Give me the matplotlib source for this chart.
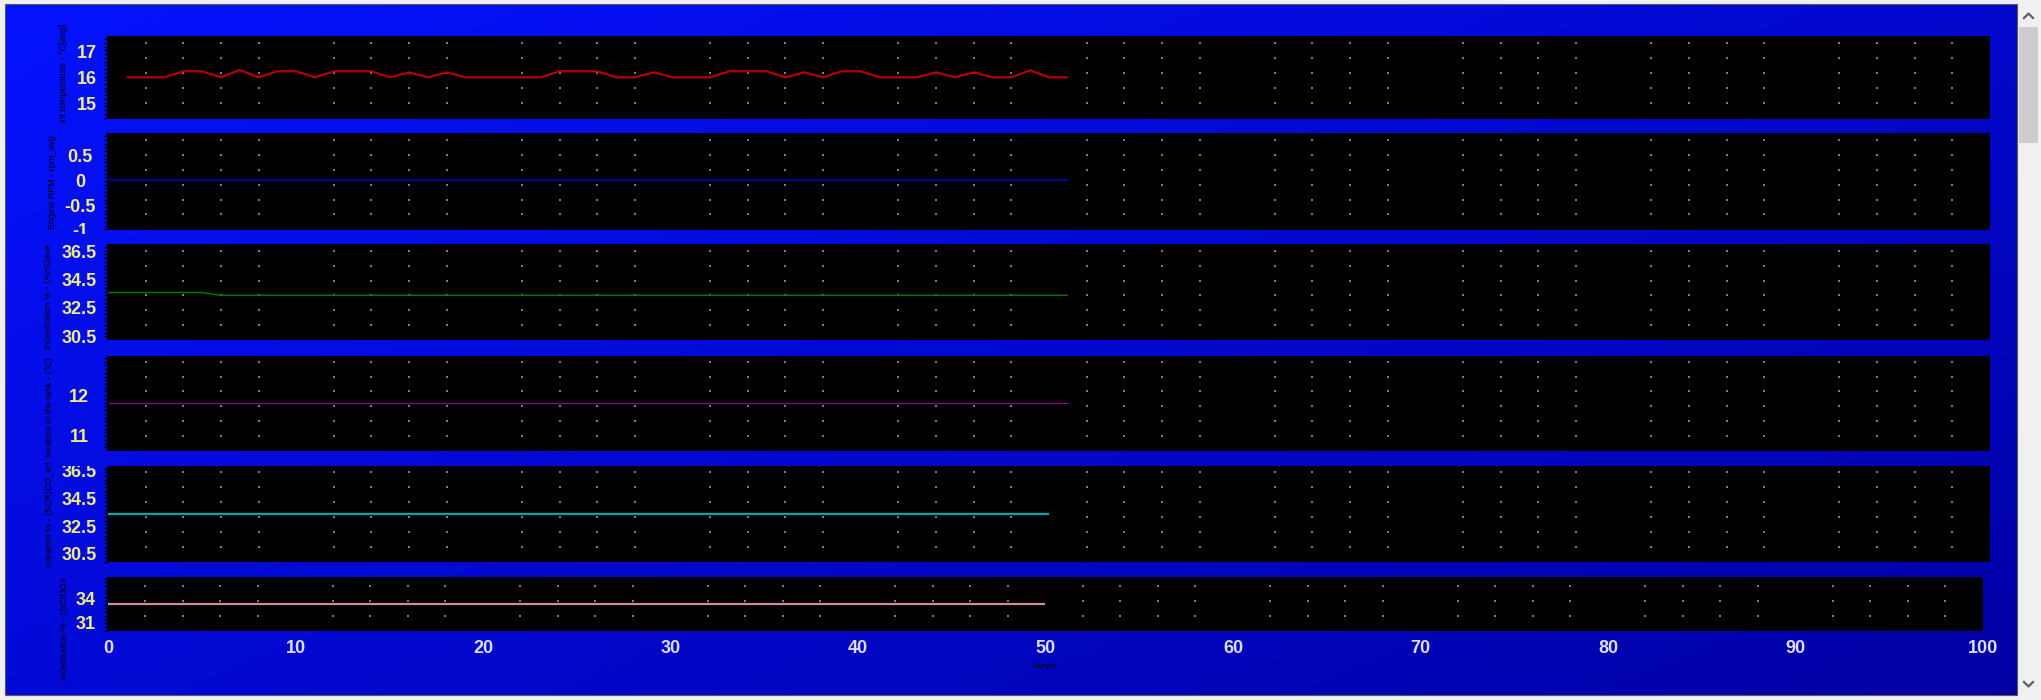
import numpy as np
import matplotlib
matplotlib.use("Agg")
import matplotlib.pyplot as plt
from matplotlib.patches import Rectangle
from matplotlib.transforms import Bbox, TransformedBbox

plt.rcParams['font.family'] = ['Liberation Sans', 'DejaVu Sans']

W, H = 2041, 700

# ---------------- data ----------------
x_ticks = [0, 10, 20, 30, 40, 50, 60, 70, 80, 90, 100]
x_ticklabels = ['0', '10', '20', '30', '40', '50', '60', '70', '80', '90', '100']
x_label = 'Sample'

red_x = list(range(1, 52))
red_vals = [16.0, 16.0, 16.0, 16.23, 16.23, 16.0, 16.28, 16.0, 16.23, 16.23,
            16.0, 16.23, 16.23, 16.23, 16.0, 16.19, 16.0, 16.19, 16.0, 16.0,
            16.0, 16.0, 16.0, 16.23, 16.23, 16.23, 16.0, 16.0, 16.19, 16.0,
            16.0, 16.0, 16.23, 16.23, 16.23, 16.0, 16.19, 16.0, 16.23, 16.23,
            16.0, 16.0, 16.0, 16.19, 16.0, 16.19, 16.0, 16.0, 16.27, 16.0, 16.0]

blue_x = list(range(0, 52))
blue_vals = [0.0, 0.0, 0.0, 0.0, 0.0, 0.0, 0.0, 0.0, 0.0, 0.0, 0.0, 0.0, 0.0,
             0.0, 0.0, 0.0, 0.0, 0.0, 0.0, 0.0, 0.0, 0.0, 0.0, 0.0, 0.0, 0.0,
             0.0, 0.0, 0.0, 0.0, 0.0, 0.0, 0.0, 0.0, 0.0, 0.0, 0.0, 0.0, 0.0,
             0.0, 0.0, 0.0, 0.0, 0.0, 0.0, 0.0, 0.0, 0.0, 0.0, 0.0, 0.0, 0.0]

green_x = list(range(0, 52))
green_vals = [33.6, 33.6, 33.6, 33.6, 33.6, 33.6, 33.4, 33.4, 33.4, 33.4, 33.4, 33.4, 33.4,
              33.4, 33.4, 33.4, 33.4, 33.4, 33.4, 33.4, 33.4, 33.4, 33.4, 33.4, 33.4, 33.4,
              33.4, 33.4, 33.4, 33.4, 33.4, 33.4, 33.4, 33.4, 33.4, 33.4, 33.4, 33.4, 33.4,
              33.4, 33.4, 33.4, 33.4, 33.4, 33.4, 33.4, 33.4, 33.4, 33.4, 33.4, 33.4, 33.4]

magenta_x = list(range(0, 52))
magenta_vals = [11.8, 11.8, 11.8, 11.8, 11.8, 11.8, 11.8, 11.8, 11.8, 11.8, 11.8, 11.8, 11.8,
                11.8, 11.8, 11.8, 11.8, 11.8, 11.8, 11.8, 11.8, 11.8, 11.8, 11.8, 11.8, 11.8,
                11.8, 11.8, 11.8, 11.8, 11.8, 11.8, 11.8, 11.8, 11.8, 11.8, 11.8, 11.8, 11.8,
                11.8, 11.8, 11.8, 11.8, 11.8, 11.8, 11.8, 11.8, 11.8, 11.8, 11.8, 11.8, 11.8]

cyan_x = list(range(0, 51))
cyan_vals = [33.4, 33.4, 33.4, 33.4, 33.4, 33.4, 33.4, 33.4, 33.4, 33.4, 33.4, 33.4, 33.4,
             33.4, 33.4, 33.4, 33.4, 33.4, 33.4, 33.4, 33.4, 33.4, 33.4, 33.4, 33.4, 33.4,
             33.4, 33.4, 33.4, 33.4, 33.4, 33.4, 33.4, 33.4, 33.4, 33.4, 33.4, 33.4, 33.4,
             33.4, 33.4, 33.4, 33.4, 33.4, 33.4, 33.4, 33.4, 33.4, 33.4, 33.4, 33.4]

pink_x = list(range(0, 51))
pink_vals = [33.3, 33.3, 33.3, 33.3, 33.3, 33.3, 33.3, 33.3, 33.3, 33.3, 33.3, 33.3, 33.3,
             33.3, 33.3, 33.3, 33.3, 33.3, 33.3, 33.3, 33.3, 33.3, 33.3, 33.3, 33.3, 33.3,
             33.3, 33.3, 33.3, 33.3, 33.3, 33.3, 33.3, 33.3, 33.3, 33.3, 33.3, 33.3, 33.3,
             33.3, 33.3, 33.3, 33.3, 33.3, 33.3, 33.3, 33.3, 33.3, 33.3, 33.3, 33.3]

y_ticks = [[15, 16, 17], [-1, -0.5, 0, 0.5], [30.5, 32.5, 34.5, 36.5],
           [11, 12], [30.5, 32.5, 34.5, 36.5], [31, 34]]
y_ticklabels = [['15', '16', '17'], ['-1', '-0.5', '0', '0.5'],
                ['30.5', '32.5', '34.5', '36.5'], ['11', '12'],
                ['30.5', '32.5', '34.5', '36.5'], ['31', '34']]
y_titles = ['Coolant temperature - \u00b0C[avg]',
            'Engine RPM - rpm_avg',
            'Urea concentration % - (AVG)ave',
            'Temperature in the tank - (\u00b0C)',
            'Urea concentration % - (SCR)CO_ed',
            'Urea concentration % - (SCR)O2']

series_x = [red_x, blue_x, green_x, magenta_x, cyan_x, pink_x]
series_y = [red_vals, blue_vals, green_vals, magenta_vals, cyan_vals, pink_vals]

# ---------------- layout / style ----------------
panel_px = [  # top, bottom, right (pixels)
    (36, 119, 1990), (133, 230, 1990), (244, 340, 1990),
    (356, 451, 1990), (466, 562, 1990), (577, 631, 1983)]
ylims = [(14.396, 17.588), (-1.004, 0.963), (30.22, 37.05),
         (10.6, 12.975), (29.92, 36.82), (29.91, 36.66)]
line_colors = ['#b40000', '#0000d0', '#007800', '#8c008c', '#00a8a8', '#c49494']
line_widths = [1.6, 1.1, 1.1, 1.0, 1.6, 1.6]
label_cx = [86.5, 80, 79.3, 79.3, 79.3, 85.8]
dot_off = [7, 7, 6.7, 5.7, 6.3, 9]
title_pos = [(63, 24, 5, 123), (53, 135, 126, 238), (49, 244, 240, 350),
             (50, 357, 352, 458), (50, 462, 458, 568), (65, 577, 572, 682)]
LEFT = 107
XMIN, XMAX = -0.05, 100.0
DOT_SP = 14.9

fig = plt.figure(figsize=(W / 100, H / 100), dpi=100)
fig.patch.set_facecolor('#f0f0f0')

# background gradient
bg = fig.add_axes([0, 0, 1, 1], zorder=0)
bg.set_xlim(0, W)
bg.set_ylim(H, 0)
bg.axis('off')
gx = np.linspace(0, 1, 300)[None, :]
gy = np.linspace(0, 1, 120)[:, None]
t = 0.55 * gx + 0.45 * gy
top_col = np.array([0.02, 0.07, 1.0])
bot_col = np.array([0.0, 0.0, 0.64])
grad = top_col[None, None, :] * (1 - t[..., None]) + bot_col[None, None, :] * t[..., None]
bg.imshow(grad, extent=(5, 2017, 695, 4), aspect='auto', interpolation='bilinear')
bg.add_patch(Rectangle((5, 4), 2012, 691, fill=False, edgecolor='#5a5a5a', lw=0.8))
# scrollbar
bg.add_patch(Rectangle((2019, 27), 19, 116, facecolor='#cdcdcd', edgecolor='none'))
bg.plot([2024, 2028.5, 2033], [18, 13.5, 18], color='#606060', lw=1.6)
bg.plot([2024, 2028.5, 2033], [682, 686.5, 682], color='#606060', lw=1.6)


def px_to_fig(x, y):
    return x / W, 1 - y / H


for i in range(6):
    top, bot, right = panel_px[i]
    x0, y1 = px_to_fig(LEFT, top)
    x1, y0 = px_to_fig(right, bot)
    ax = fig.add_axes([x0, y0, x1 - x0, y1 - y0], zorder=2)
    ax.set_facecolor('black')
    for s in ax.spines.values():
        s.set_visible(False)
    ax.set_xlim(XMIN, XMAX)
    lo, hi = ylims[i]
    ax.set_ylim(lo, hi)
    h = bot - top

    # dotted grid
    dx = [v for v in range(2, 100, 2) if v % 10 != 0]
    dpx = []
    k = 0
    while dot_off[i] + k * DOT_SP < h - 5:
        dpx.append(dot_off[i] + k * DOT_SP)
        k += 1
    dy = [hi - p / h * (hi - lo) for p in dpx]
    gxs, gys = np.meshgrid(dx, dy)
    ax.scatter(gxs.ravel(), gys.ravel(), s=0.9, c='#7c7c7c', marker='s',
               linewidths=0, zorder=1)

    ax.plot(series_x[i], series_y[i], color=line_colors[i], lw=line_widths[i],
            zorder=3, solid_capstyle='butt')

    # y ticks
    ax.set_yticks(y_ticks[i])
    ax.set_yticklabels(y_ticklabels[i])
    pad_pt = (LEFT - label_cx[i]) * 72 / 100
    ax.tick_params(axis='y', which='major', length=0, pad=pad_pt,
                   labelsize=13, labelcolor='#ecec80')
    clip = TransformedBbox(Bbox.from_extents(0, 1 - (bot + 4) / H, right / W, 1 - top / H),
                           fig.transFigure)
    for tk in ax.yaxis.get_major_ticks():
        tk.label1.set_horizontalalignment('center')
        tk.label1.set_fontweight('bold')
        tk.label1.set_clip_box(clip)
        tk.label1.set_clip_on(True)
    # minor ticks
    msp = DOT_SP / 4
    start = dot_off[i] % msp
    mpx = []
    k = 0
    while start + k * msp < h:
        mpx.append(start + k * msp)
        k += 1
    ax.set_yticks([hi - p / h * (hi - lo) for p in mpx], minor=True)
    ax.tick_params(axis='y', which='minor', length=2.5, width=1.0,
                   color='black', direction='out')

    # x ticks
    ax.set_xticks(x_ticks)
    if i == 5:
        ax.set_xticklabels(x_ticklabels)
        ax.tick_params(axis='x', length=0, pad=6.3, labelsize=13,
                       labelcolor='#dcdcff')
        for tk in ax.xaxis.get_major_ticks():
            tk.label1.set_fontweight('bold')
        ax.set_xlabel(x_label, fontsize=5, color='black')
        ax.xaxis.set_label_coords(0.5, -(663 - bot) / h)
    else:
        ax.tick_params(axis='x', length=0, labelbottom=False)

    # y axis title (tiny, clipped)
    tx, ttop, c0, c1 = title_pos[i]
    ax.set_ylabel(y_titles[i], fontsize=6.5, color='#000010',
                  ha='right', va='center', rotation=90)
    ax.yaxis.set_label_coords((tx - LEFT) / (right - LEFT), 1 - (ttop - top) / h)
    lbl = ax.yaxis.label
    lbl.set_rotation_mode('anchor')
    lbl.set_ha('right')
    lbl.set_va('center')
    tclip = TransformedBbox(Bbox.from_extents(0, 1 - c1 / H, LEFT / W, 1 - c0 / H),
                            fig.transFigure)
    lbl.set_clip_box(tclip)
    lbl.set_clip_on(True)

fig.savefig('out.png', dpi=100, facecolor=fig.get_facecolor())
